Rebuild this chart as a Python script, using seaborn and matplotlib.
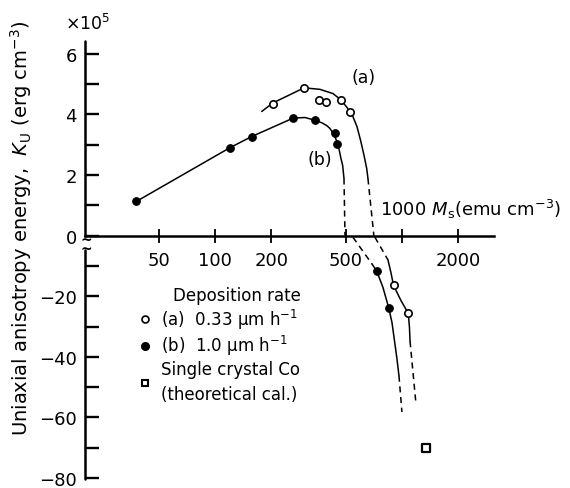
import numpy as np
import pandas as pd
import matplotlib
matplotlib.use("Agg")
import matplotlib.pyplot as plt
import seaborn as sns
from matplotlib.lines import Line2D
from matplotlib.ticker import FixedLocator, FixedFormatter, NullLocator

# Measured points: saturation magnetisation Ms (emu cm^-3) vs Ku (x10^5 erg cm^-3)
ms_a = [205, 300, 360, 392, 470, 527, 902, 1081]
ku_a = [4.36, 4.88, 4.49, 4.41, 4.49, 4.09, -16.4, -25.6]

ms_b = [38, 120, 157, 262, 343, 438, 448, 732, 849]
ku_b = [1.13, 2.90, 3.27, 3.88, 3.81, 3.39, 3.01, -11.6, -23.7]

ms_co = [1344]
ku_co = [-70.0]

# Hand-drawn guide curves (segments, solid or dashed)
curve_b1_ms = [38, 120, 157, 262, 303, 343, 375, 397, 412, 433, 449, 460, 472, 482, 490]
curve_b1_ku = [1.13, 2.90, 3.27, 3.88, 3.90, 3.81, 3.72, 3.63, 3.54, 3.34, 3.11, 2.88, 2.55, 2.32, 1.89]
curve_b2_ms = [490, 496]
curve_b2_ku = [1.89, 0.0]
curve_b3_ms = [547, 691]
curve_b3_ku = [-0.5, -9.3]
curve_b4_ms = [691, 732, 791, 849, 885, 940, 964]
curve_b4_ku = [-9.3, -11.6, -17.0, -23.7, -28.7, -40.5, -46.2]
curve_b5_ms = [964, 1000]
curve_b5_ku = [-46.2, -58.2]

curve_a1_ms = [178, 204, 300, 364, 428, 470, 506, 527, 547, 575, 603, 627, 648, 658]
curve_a1_ku = [4.10, 4.38, 4.88, 4.83, 4.69, 4.49, 4.25, 4.09, 3.93, 3.60, 3.11, 2.65, 2.22, 1.89]
curve_a2_ms = [658, 708]
curve_a2_ku = [1.89, 0.0]
curve_a3_ms = [717, 842]
curve_a3_ku = [-0.5, -8.0]
curve_a4_ms = [842, 872, 902, 990, 1081, 1097, 1105]
curve_a4_ku = [-8.0, -12.0, -16.4, -21.5, -25.6, -30.2, -34.8]
curve_a5_ms = [1105, 1184]
curve_a5_ku = [-34.8, -54.4]

x_ticks = [50, 100, 200, 500, 1000, 2000]
x_tick_labels = ["50", "100", "200", "500", "", "2000"]
y_ticks = [-80, -70, -60, -50, -40, -30, -20, -10, 0, 1, 2, 3, 4, 5, 6]
y_tick_labels = ["−80", "", "−60", "", "−40", "", "−20", "", "0", "", "2", "", "4", "", "6"]

segments = [
    ("b1", "solid", curve_b1_ms, curve_b1_ku),
    ("b2", "dashed", curve_b2_ms, curve_b2_ku),
    ("b3", "dashed", curve_b3_ms, curve_b3_ku),
    ("b4", "solid", curve_b4_ms, curve_b4_ku),
    ("b5", "dashed", curve_b5_ms, curve_b5_ku),
    ("a1", "solid", curve_a1_ms, curve_a1_ku),
    ("a2", "dashed", curve_a2_ms, curve_a2_ku),
    ("a3", "dashed", curve_a3_ms, curve_a3_ku),
    ("a4", "solid", curve_a4_ms, curve_a4_ku),
    ("a5", "dashed", curve_a5_ms, curve_a5_ku),
]
curves = pd.concat(
    [pd.DataFrame({"ms": m, "ku": k, "seg": s, "kind": kind}) for s, kind, m, k in segments],
    ignore_index=True,
)

sns.set_theme(style="white")
plt.rcParams["font.family"] = ["DejaVu Sans"]
plt.rcParams["mathtext.fontset"] = "dejavusans"
for key in ["text.color", "axes.labelcolor", "xtick.color", "ytick.color"]:
    plt.rcParams[key] = "black"

fig = plt.figure(figsize=(5.7, 4.89), dpi=100)
ax = fig.add_axes([0.1491, 0.0184, 0.7175, 0.896])


# Broken ordinate: the negative branch is compressed ten times
def fwd(y):
    y = np.asarray(y, dtype=float)
    return np.where(y < 0, y / 10.0, y)


def inv(y):
    y = np.asarray(y, dtype=float)
    return np.where(y < 0, y * 10.0, y)


ax.set_xscale("log")
ax.set_yscale("function", functions=(fwd, inv))

sns.lineplot(data=curves, x="ms", y="ku", units="seg", style="kind",
             dashes={"solid": "", "dashed": (4, 3)}, estimator=None, sort=False,
             color="black", lw=1.1, legend=False, ax=ax)

sns.scatterplot(x=ms_a, y=ku_a, marker="o", s=28, facecolor="white",
                edgecolor="black", linewidth=1.2, zorder=5, ax=ax)
sns.scatterplot(x=ms_b, y=ku_b, marker="o", s=30, color="black",
                edgecolor="black", linewidth=0.8, zorder=5, ax=ax)
sns.scatterplot(x=ms_co, y=ku_co, marker="s", s=28, facecolor="white",
                edgecolor="black", linewidth=1.6, zorder=5, ax=ax)

ax.set_xlim(20.2, 3105)
ax.set_ylim(-80.3, 6.43)

for side in ["top", "right", "left"]:
    ax.spines[side].set_visible(False)
ax.spines["bottom"].set_position(("data", 0))
ax.spines["bottom"].set_linewidth(1.8)
ax.spines["bottom"].set_color("black")

ax.xaxis.set_major_locator(FixedLocator(x_ticks))
ax.xaxis.set_major_formatter(FixedFormatter(x_tick_labels))
ax.xaxis.set_minor_locator(NullLocator())
ax.yaxis.set_major_locator(FixedLocator(y_ticks))
ax.yaxis.set_major_formatter(FixedFormatter(y_tick_labels))
ax.yaxis.set_minor_locator(NullLocator())

ax.tick_params(axis="x", which="major", direction="inout", length=10, width=1.3,
               pad=6, labelsize=13, colors="black", bottom=True)
ax.tick_params(axis="y", which="major", direction="in", length=10, width=1.7,
               pad=6, labelsize=13, colors="black", left=True)

# Left axis line drawn in two pieces with a break just below zero
ytr = ax.get_yaxis_transform()
ax.plot([0, 0], [0, 6.43], transform=ytr, color="black", lw=1.8, clip_on=False)
ax.plot([0, 0], [-4.8, -80.3], transform=ytr, color="black", lw=1.8, clip_on=False)
ax.text(0.004, -3.0, "~\n~", transform=ytr, ha="center", va="center", fontsize=10,
        fontweight="bold", linespacing=0.55, color="black")

ax.set_xlabel("")
ax.set_ylabel("Uniaxial anisotropy energy,  $K_{\\rm U}$ (erg cm$^{-3}$)",
              fontsize=14, color="black")
ax.yaxis.set_label_coords(-0.125, 0.575)

fig.text(0.153, 0.951, "×10$^{5}$", ha="center", va="center", fontsize=12.5)

ax.annotate("1000 $M_{\\rm s}$(emu cm$^{-3}$)", xy=(1000, 0), xycoords="data",
            xytext=(-22, 27), textcoords="offset pixels", ha="left", va="center",
            fontsize=13)

ax.text(627, 5.25, "(a)", ha="center", va="center", fontsize=12.5)
ax.text(364, 2.52, "(b)", ha="center", va="center", fontsize=12.5)

handles = [
    Line2D([], [], ls="none", marker="o", ms=5, mfc="white", mec="black", mew=1.2),
    Line2D([], [], ls="none", marker="o", ms=5.5, mfc="black", mec="black"),
    Line2D([], [], ls="none", marker="s", ms=5, mfc="white", mec="black", mew=1.5),
]
labels = ["(a)  0.33 µm h$^{-1}$", "(b)  1.0 µm h$^{-1}$",
          "Single crystal Co\n(theoretical cal.)"]
leg = ax.legend(handles, labels, title="Deposition rate", frameon=False,
                loc="upper left", bbox_to_anchor=(0.13, 0.44), fontsize=12,
                title_fontsize=12, handlelength=0.8, handletextpad=0.6,
                labelspacing=0.15, borderaxespad=0, borderpad=0,
                alignment="right")
for t in leg.get_texts():
    t.set_linespacing(1.5)

fig.savefig("out.png", dpi=100, facecolor="white")
